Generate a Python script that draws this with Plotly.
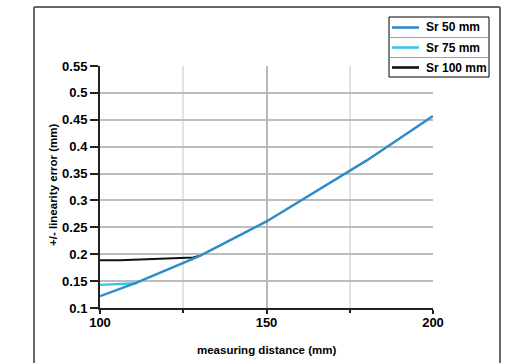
import plotly.graph_objects as go

# Data
sr50_x = [100, 111, 130, 150, 180, 200]
sr50_y = [0.122, 0.147, 0.197, 0.261, 0.374, 0.457]
sr75_x = [100, 111]
sr75_y = [0.143, 0.146]
sr100_x = [100, 106, 128, 130]
sr100_y = [0.189, 0.189, 0.194, 0.197]
series_names = ["Sr 50 mm", "Sr 75 mm", "Sr 100 mm"]
series_colors = ["#2c8bc8", "#36c6e6", "#111111"]
y_ticks = [0.1, 0.15, 0.2, 0.25, 0.3, 0.35, 0.4, 0.45, 0.5, 0.55]
y_tick_labels = ["0.1", "0.15", "0.2", "0.25", "0.3", "0.35", "0.4", "0.45", "0.5", "0.55"]
x_ticks = [100, 150, 200]
x_title = "measuring distance (mm)"
y_title = "+/- linearity error (mm)"

FONT = "Liberation Sans, Arial, sans-serif"
L, R, T, B = 100, 75, 66, 55
W, H = 508, 363
pw, ph = W - L - R, H - T - B

def px(x):
    return (x - L) / pw

def py(y):
    return (H - B - y) / ph

fig = go.Figure()
fig.add_trace(go.Scatter(x=sr75_x, y=sr75_y, mode="lines", name=series_names[1],
                         showlegend=False, line=dict(color=series_colors[1], width=2.4)))
fig.add_trace(go.Scatter(x=sr100_x, y=sr100_y, mode="lines", name=series_names[2],
                         showlegend=False, line=dict(color=series_colors[2], width=2)))
fig.add_trace(go.Scatter(x=sr50_x, y=sr50_y, mode="lines", name=series_names[0],
                         showlegend=False, line=dict(color=series_colors[0], width=2.4)))

shapes = []
annotations = []
# outer frame
for (x0, y0, x1, y1) in [(34, 7, 34, 400), (34, 7, 500, 7), (500, 7, 500, 400)]:
    shapes.append(dict(type="line", xref="paper", yref="paper",
                       x0=px(x0), x1=px(x1), y0=py(y0), y1=py(y1),
                       line=dict(color="#666666", width=2)))
# legend box
shapes.append(dict(type="rect", xref="paper", yref="paper",
                   x0=px(389), x1=px(489), y0=py(17), y1=py(77),
                   fillcolor="white", line=dict(color="black", width=1)))
for yy in [37.5, 57.5]:
    shapes.append(dict(type="line", xref="paper", yref="paper",
                       x0=px(389.5), x1=px(488.5), y0=py(yy), y1=py(yy),
                       line=dict(color="#a0a0a0", width=1)))
for i, (name, col) in enumerate(zip(series_names, series_colors)):
    yc = 27.5 + 20 * i
    shapes.append(dict(type="line", xref="paper", yref="paper",
                       x0=px(392), x1=px(419), y0=py(yc), y1=py(yc),
                       line=dict(color=col, width=2.6)))
    annotations.append(dict(text=name, xref="paper", yref="paper",
                            x=px(424), y=py(yc), xanchor="left", yanchor="middle",
                            showarrow=False,
                            font=dict(family=FONT, size=12, color="black", weight="bold")))
# axis titles
annotations.append(dict(text=x_title, xref="paper", yref="paper",
                        x=px(266), y=py(350), xanchor="center", yanchor="middle",
                        showarrow=False,
                        font=dict(family=FONT, size=11.5, color="black", weight="bold")))
annotations.append(dict(text=y_title, xref="paper", yref="paper",
                        x=px(53), y=py(184), xanchor="center", yanchor="middle",
                        showarrow=False, textangle=-90,
                        font=dict(family=FONT, size=11.5, color="black", weight="bold")))

fig.update_layout(
    width=W, height=H,
    margin=dict(l=L, r=R, t=T, b=B),
    paper_bgcolor="white", plot_bgcolor="white",
    font=dict(family=FONT, size=12, color="black"),
    shapes=shapes,
    annotations=annotations,
    showlegend=False,
    xaxis=dict(
        range=[100, 200], tickvals=x_ticks, ticktext=[str(v) for v in x_ticks],
        automargin=False,
        showline=True, linecolor="#222222", linewidth=2,
        ticks="outside", ticklen=4, tickwidth=1.5, tickcolor="#222222",
        ticklabelstandoff=-3,
        showgrid=True, gridcolor="#b8b8b8", gridwidth=1.5,
        minor=dict(dtick=25, tick0=100, ticks="outside", ticklen=3, tickcolor="#222222",
                   showgrid=True, gridcolor="#e2e2e2", gridwidth=1.5),
        zeroline=False,
        tickfont=dict(family=FONT, size=13, weight="bold"),
    ),
    yaxis=dict(
        range=[0.1, 0.55], tickvals=y_ticks, ticktext=y_tick_labels,
        automargin=False,
        showline=True, linecolor="#222222", linewidth=2,
        ticks="outside", ticklen=8, tickwidth=1.5, tickcolor="#222222",
        showgrid=True, gridcolor="#bdbdbd", gridwidth=1.5,
        zeroline=False,
        tickfont=dict(family=FONT, size=13, weight="bold"),
    ),
)

fig.write_html("out.html")
